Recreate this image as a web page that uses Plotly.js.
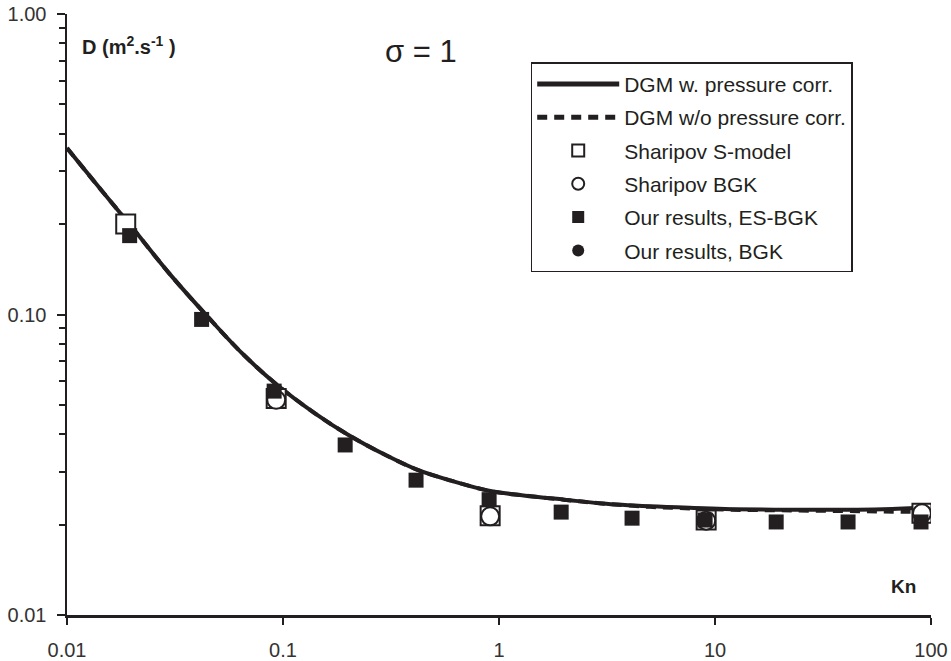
<!DOCTYPE html>
<html>
<head>
<meta charset="utf-8">
<script src="https://cdn.plot.ly/plotly-3.0.1.min.js"></script>
<style>html,body{margin:0;padding:0;background:#fff;}#chart{width:951px;height:661px;}</style>
</head>
<body>
<div id="chart"></div>
<script>
// DGM curves
const knCurve = [0.01, 0.014, 0.02, 0.03, 0.045, 0.065, 0.094, 0.14, 0.2, 0.3, 0.42, 0.6, 0.9, 1.3, 2, 3, 5, 8, 12, 20, 35, 60, 100];
const dgmWith = [0.358, 0.266, 0.195, 0.136, 0.098, 0.074, 0.0583, 0.047, 0.0398, 0.0340, 0.0304, 0.0280, 0.0259, 0.0250, 0.0242, 0.0235, 0.0230, 0.0227, 0.0225, 0.0224, 0.0224, 0.0225, 0.0228];
const dgmWithout = [0.358, 0.266, 0.195, 0.136, 0.098, 0.074, 0.0583, 0.047, 0.0398, 0.0340, 0.0304, 0.0280, 0.0259, 0.0250, 0.0242, 0.0235, 0.0229, 0.0226, 0.0224, 0.0223, 0.0222, 0.0221, 0.0220];
// Sharipov S-model
const knSharS = [0.0187, 0.093, 0.91, 9.1, 90.8];
const dSharS = [0.200, 0.0525, 0.0214, 0.0207, 0.0218];
// Sharipov BGK
const knSharB = [0.093, 0.91, 9.1, 90.8];
const dSharB = [0.052, 0.0213, 0.0206, 0.0218];
// Our results, ES-BGK
const knES = [0.0195, 0.042, 0.091, 0.194, 0.413, 0.9, 1.94, 4.13, 9.0, 19.2, 41.3, 89.9];
const dES = [0.183, 0.0963, 0.0556, 0.0368, 0.0281, 0.0242, 0.0220, 0.0210, 0.0207, 0.0204, 0.0204, 0.0204];
// Our results, BGK (hidden under ES-BGK squares)
const knBGK = [0.0195, 0.042, 0.091, 0.194, 0.413, 0.9, 1.94, 4.13, 9.0, 19.2, 41.3, 89.9];
const dBGK = [0.183, 0.0963, 0.0556, 0.0368, 0.0281, 0.0242, 0.0220, 0.0210, 0.0207, 0.0204, 0.0204, 0.0204];

const xTicks = [0.01, 0.1, 1, 10, 100];
const xTickText = ['0.01', '0.1', '1', '10', '100'];
const yTicks = [0.01, 0.1, 1];
const yTickText = ['0.01', '0.10', '1.00'];

const ink = '#231f20';
const FONT = 'Liberation Sans, Arial, sans-serif';

const traces = [
  {x: knCurve, y: dgmWith, mode: 'lines', name: 'DGM w. pressure corr.', legendgroup: 'a',
   line: {color: ink, width: 4, shape: 'spline'}},
  {x: knCurve, y: dgmWithout, mode: 'lines', name: 'DGM w/o pressure corr.', legendgroup: 'b',
   line: {color: ink, width: 4, dash: '10px,7px', shape: 'spline'}},
  {x: knSharS, y: dSharS, mode: 'markers', name: 'Sharipov S-model', legendgroup: 'c',
   marker: {symbol: 'square', size: 19, color: '#fff', line: {color: ink, width: 2}}},
  {x: knSharB, y: dSharB, mode: 'markers', name: 'Sharipov BGK', legendgroup: 'd',
   marker: {symbol: 'circle', size: 18, color: '#fff', line: {color: ink, width: 2}}},
  {x: knES, y: dES, mode: 'markers', name: 'Our results, ES-BGK', legendgroup: 'e',
   marker: {symbol: 'square', size: 15, color: ink}},
  {x: knBGK, y: dBGK, mode: 'markers', name: 'Our results, BGK', legendgroup: 'f',
   marker: {symbol: 'circle', size: 12, color: ink}}
];
// draw BGK filled circles beneath the squares but keep legend order
const order = [0, 1, 2, 3, 5, 4];
const data = order.map(i => Object.assign({legendrank: i + 1}, traces[i]));

const layout = {
  width: 951, height: 661,
  margin: {l: 67, r: 20, t: 14, b: 46},
  paper_bgcolor: '#fff', plot_bgcolor: '#fff',
  font: {family: FONT, color: ink, size: 20},
  showlegend: true,
  legend: {
    x: 0.5367, y: 0.9197, xanchor: 'left', yanchor: 'top',
    bordercolor: ink, borderwidth: 1.5, bgcolor: '#fff',
    font: {family: FONT, size: 21, color: ink},
    itemsizing: 'constant', itemwidth: 82,
    traceorder: 'grouped', tracegroupgap: 3
  },
  xaxis: {
    type: 'log', range: [-2, 2],
    tickmode: 'array', tickvals: xTicks, ticktext: xTickText,
    ticks: 'outside', ticklen: 7, tickwidth: 2, tickcolor: ink,
    ticklabelstandoff: 8,
    showline: true, linecolor: ink, linewidth: 2.5,
    showgrid: false, zeroline: false,
    tickfont: {family: FONT, size: 20, color: '#333'}
  },
  yaxis: {
    type: 'log', range: [-2, 0],
    tickmode: 'array', tickvals: yTicks, ticktext: yTickText,
    ticks: 'outside', ticklen: 8, tickwidth: 2, tickcolor: ink,
    ticklabelstandoff: 6,
    minor: {ticks: 'outside', ticklen: 6, tickwidth: 2, tickcolor: ink, dtick: 'D1', showgrid: false},
    showline: true, linecolor: ink, linewidth: 2.5,
    showgrid: false, zeroline: false,
    tickfont: {family: FONT, size: 20, color: '#333'}
  },
  annotations: [
    {xref: 'paper', yref: 'paper', x: 0.0155, y: 0.948, xanchor: 'left', yanchor: 'middle', showarrow: false,
     text: '<b>D (m<sup>2</sup>.s<sup>-1</sup> )</b>', font: {family: FONT, size: 20, color: ink}},
    {xref: 'paper', yref: 'paper', x: 0.9845, y: 0.047, xanchor: 'right', yanchor: 'middle', showarrow: false,
     text: '<b>Kn</b>', font: {family: FONT, size: 19, color: ink}},
    {xref: 'paper', yref: 'paper', x: 0.41, y: 0.937, xanchor: 'center', yanchor: 'middle', showarrow: false,
     text: 'σ = 1', font: {family: FONT, size: 31, color: ink}}
  ]
};

Plotly.newPlot('chart', data, layout, {displayModeBar: false, staticPlot: true});
</script>
</body>
</html>
